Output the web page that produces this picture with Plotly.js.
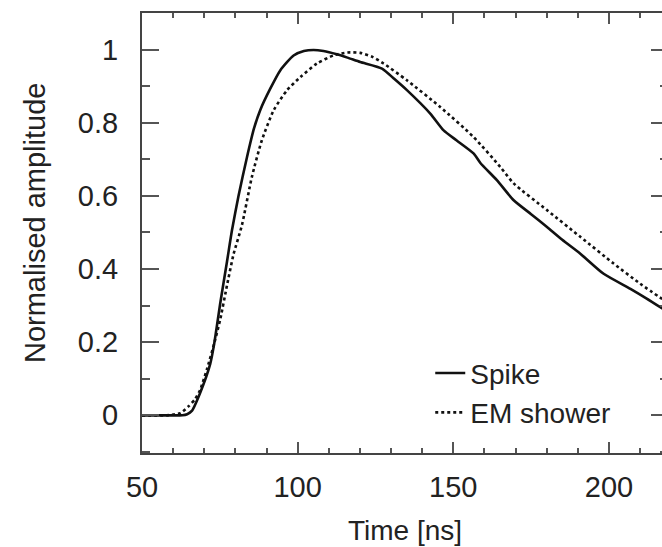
<!DOCTYPE html>
<html>
<head>
<meta charset="utf-8">
<script src="https://cdn.plot.ly/plotly-3.0.1.min.js"></script>
<style>
html, body { margin: 0; padding: 0; background: #fff; overflow: hidden; }
#chart { width: 668px; height: 547px; }
</style>
</head>
<body>
<div id="chart"></div>
<script>
// Time [ns] and normalised amplitude
const spikeTime = [50, 60, 63, 64.5, 66, 68.7, 71.9, 73.2, 75.2, 77.3, 78.9, 81, 83.7, 86, 88, 91.2, 94.4, 98.7, 102, 105.1, 108.3, 112.6, 116, 120.1, 127.1, 131, 135.1, 142.6, 146.9, 151, 156.5, 158.7, 164, 169.4, 175, 180.1, 185, 190.8, 198.3, 206.9, 212, 219];
const spikeAmp  = [0, 0, 0, 0.003, 0.012, 0.062, 0.14, 0.196, 0.31, 0.42, 0.506, 0.6, 0.705, 0.785, 0.835, 0.893, 0.943, 0.984, 0.996, 0.999, 0.996, 0.987, 0.978, 0.966, 0.948, 0.92, 0.889, 0.825, 0.779, 0.752, 0.716, 0.69, 0.643, 0.588, 0.55, 0.515, 0.48, 0.442, 0.387, 0.346, 0.32, 0.282];
const emTime = [50, 58, 62.3, 65, 67.1, 68.7, 71, 73.3, 75.2, 77.3, 79.4, 82.1, 85.3, 88.5, 92.3, 96.6, 100.9, 106.2, 111.5, 116, 120.1, 124, 127.6, 135.1, 145.8, 156.5, 165.1, 169.4, 180.1, 190.8, 201.5, 210, 219];
const emAmp  = [0, 0, 0.006, 0.025, 0.045, 0.07, 0.13, 0.2, 0.265, 0.355, 0.44, 0.52, 0.652, 0.752, 0.834, 0.889, 0.925, 0.962, 0.984, 0.992, 0.991, 0.98, 0.962, 0.916, 0.843, 0.761, 0.679, 0.634, 0.561, 0.488, 0.415, 0.36, 0.307];
const seriesNames = ["Spike", "EM shower"];
const xTitle = "Time [ns]";
const yTitle = "Normalised amplitude";

const FONT = "Liberation Sans, Arial, Helvetica, sans-serif";
const traces = [
  { x: spikeTime, y: spikeAmp, name: seriesNames[0], type: "scatter", mode: "lines",
    line: { color: "#111", width: 2.6, shape: "spline", smoothing: 0.6 } },
  { x: emTime, y: emAmp, name: seriesNames[1], type: "scatter", mode: "lines",
    line: { color: "#111", width: 2.6, dash: "3px,3px", shape: "spline", smoothing: 0.6 } }
];

const layout = {
  width: 668, height: 547,
  margin: { l: 142, r: 0, t: 13, b: 94 },
  paper_bgcolor: "#fff", plot_bgcolor: "#fff",
  font: { family: FONT, size: 29, color: "#222" },
  showlegend: true,
  legend: {
    x: 0.548, y: 0.238, xanchor: "left", yanchor: "top",
    bgcolor: "rgba(0,0,0,0)", borderwidth: 0,
    font: { family: FONT, size: 28, color: "#222" },
    tracegroupgap: 0, itemwidth: 30
  },
  xaxis: {
    range: [50, 218.97], showgrid: false, zeroline: false,
    showline: true, linecolor: "#444", linewidth: 2, mirror: "ticks",
    ticks: "inside", ticklen: 11, tickwidth: 2, tickcolor: "#555",
    dtick: 50, tick0: 50,
    minor: { ticks: "inside", ticklen: 5, tickwidth: 2, tickcolor: "#555", dtick: 10, showgrid: false },
    tickfont: { family: FONT, size: 29, color: "#222" },
    ticklabelstandoff: 7,
    title: { text: xTitle, font: { family: FONT, size: 28, color: "#222" }, standoff: 19 }
  },
  yaxis: {
    range: [-0.103, 1.1], showgrid: false, zeroline: false,
    showline: true, linecolor: "#444", linewidth: 2, mirror: "ticks",
    ticks: "inside", ticklen: 17, tickwidth: 2, tickcolor: "#555",
    dtick: 0.2, tick0: 0,
    minor: { ticks: "inside", ticklen: 8, tickwidth: 2, tickcolor: "#555", dtick: 0.1, showgrid: false },
    tickfont: { family: FONT, size: 29, color: "#222" },
    ticklabelstandoff: 16
  },
  annotations: [
    { text: yTitle, xref: "paper", yref: "paper", x: 0, y: 0.5227,
      xanchor: "center", yanchor: "middle", xshift: -107, textangle: -90,
      showarrow: false, font: { family: FONT, size: 29, color: "#222" } }
  ]
};

Plotly.newPlot("chart", traces, layout, { displayModeBar: false, staticPlot: true });
</script>
</body>
</html>
